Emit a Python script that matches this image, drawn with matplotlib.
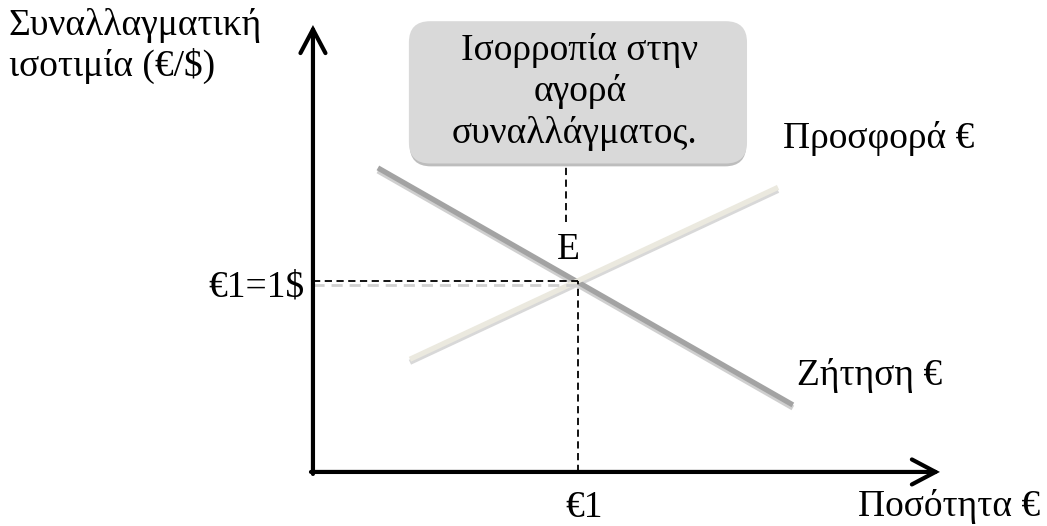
import matplotlib.pyplot as plt
from matplotlib.patches import FancyBboxPatch, FancyArrowPatch
import numpy as np

plt.rcParams['font.family'] = ['Liberation Serif', 'DejaVu Serif']

# data (quantity of euros, exchange rate), equilibrium at (1, 1)
demand_q = [0.245, 1.811]
demand_p = [1.592, 0.351]
supply_q = [0.366, 1.755]
supply_p = [0.59, 1.49]
eq_q = 1.0
eq_p = 1.0

fig = plt.figure(figsize=(10.47, 5.26), dpi=100)
ax = fig.add_axes([0, 0, 1, 1])
ax.set_xlim(-1.181, 2.770)
ax.set_ylim(-0.283, 2.471)
ax.axis('off')

px = 1 / 265.0   # one pixel in x units
py = 1 / 191.0   # one pixel in y units

# axes with arrows
arr = '->,head_length=0.85,head_width=0.45'
ax.add_patch(FancyArrowPatch((0, -2 * py), (0, 2.34), arrowstyle=arr, mutation_scale=20,
                             lw=3.0, color='black', shrinkA=0, shrinkB=0, joinstyle='miter', zorder=6))
ax.add_patch(FancyArrowPatch((-2 * px, 0), (2.366, 0), arrowstyle=arr, mutation_scale=20,
                             lw=3.0, color='black', shrinkA=0, shrinkB=0, joinstyle='miter', zorder=6))

# demand curve (grey with shadow)
ax.plot(demand_q, np.array(demand_p) - 3 * py, color='#cfcfcf', lw=3.8, solid_capstyle='butt', zorder=2)
ax.plot(demand_q, demand_p, color='#a3a3a3', lw=3.8, solid_capstyle='butt', zorder=3)

# supply curve (light beige with shadow)
ax.plot(supply_q, np.array(supply_p) - 3 * py, color='#d8d8d8', lw=3.8, solid_capstyle='butt', zorder=2)
ax.plot(supply_q, supply_p, color='#ebe9df', lw=3.8, solid_capstyle='butt', zorder=3)

# dashed guides
ax.plot([0, eq_q], [eq_p - 4 * py, eq_p - 4 * py], color='#d0d0d0', lw=2, ls=(0, (4, 2.5)), zorder=3)
ax.plot([0, eq_q], [eq_p, eq_p], color='black', lw=1.3, ls=(0, (4, 2.5)), zorder=4)
ax.plot([eq_q, eq_q], [0, eq_p], color='black', lw=1.3, ls=(0, (4, 2.5)), zorder=4)
ax.plot([0.955, 0.955], [1.309, 1.628], color='black', lw=1.3, ls=(0, (4, 2.5)), zorder=4)

# callout box
asp = 265.0 / 191.0
ax.add_patch(FancyBboxPatch((0.365, 1.600), 1.27, 0.74, boxstyle='round,pad=0,rounding_size=0.08',
                            mutation_aspect=asp, fc='#bdbdbd', ec='none', zorder=4))
ax.add_patch(FancyBboxPatch((0.362, 1.615), 1.276, 0.745, boxstyle='round,pad=0,rounding_size=0.08',
                            mutation_aspect=asp, fc='#d9d9d9', ec='none', zorder=5))

fs = 27


def txt(x_px, y_px, s, ha='left'):
    # place text by pixel position of its baseline
    ax.text((x_px - 313) * px, (472 - y_px) * py, s, ha=ha, va='baseline', fontsize=fs, zorder=7)


txt(580, 60, 'Ισορροπία στην', 'center')
txt(580, 101, 'αγορά', 'center')
txt(575, 143, 'συναλλάγματος.', 'center')

txt(9, 35, 'Συναλλαγματική')
txt(9, 76, 'ισοτιμία (€/$)')
txt(783, 148, 'Προσφορά €')
txt(797, 385, 'Ζήτηση €')
txt(568, 259, 'E', 'center')
txt(305, 297, '€1=1$', 'right')
txt(584, 517, '€1', 'center')
txt(1040, 516, 'Ποσότητα €', 'right')

fig.savefig('out.png', dpi=100)
